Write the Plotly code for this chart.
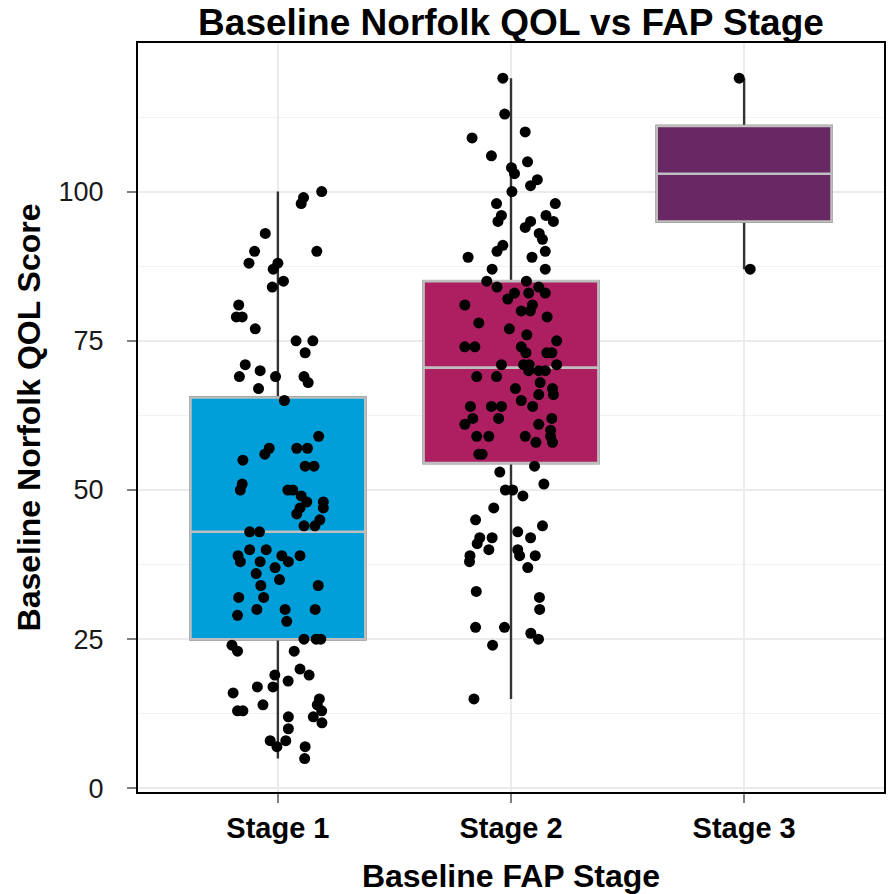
import plotly.graph_objects as go

# ---------------- data ----------------
stages = ["Stage 1", "Stage 2", "Stage 3"]
box_colors = ["#009FDA", "#AE1F62", "#682864"]

stage1_scores = [100, 99, 98, 93, 90, 90, 88, 88, 87, 85, 84, 81, 79, 79, 77, 75, 75, 73, 71, 69,
                 70, 69, 69, 68, 67, 65, 59, 57, 56, 57, 57, 55, 54, 54, 51, 50, 50, 50, 49, 48,
                 48, 47, 47, 46, 45, 44, 44, 43, 43, 40, 40, 39, 38, 39, 38, 39, 38, 37, 36, 35,
                 34, 34, 32, 32, 30, 30, 30, 29, 28, 25, 25, 25, 24, 23, 23, 20, 19, 19, 18, 17,
                 17, 16, 15, 14, 13, 14, 13, 13, 12, 12, 11, 10, 8, 8, 7, 7, 5]
stage1_jitter = [0.188, 0.11, 0.10, -0.054, -0.10, 0.167, -0.124, 0.0, -0.02, 0.024, -0.024, -0.168,
                 -0.178, -0.153, -0.097, 0.078, 0.15, 0.117, -0.14, -0.165, -0.076, -0.01, 0.112,
                 0.13, -0.083, 0.028, 0.175, -0.037, -0.056, 0.081, 0.127, -0.15, 0.117, 0.155,
                 -0.153, -0.161, 0.043, 0.064, 0.10, 0.124, 0.195, 0.195, 0.095, 0.081, 0.18,
                 0.112, 0.159, -0.121, -0.079, -0.121, -0.05, -0.171, -0.161, 0.017, 0.045, 0.095,
                 -0.076, -0.012, -0.093, 0.007, -0.073, 0.173, -0.168, -0.061, -0.09, 0.031, 0.16,
                 -0.173, 0.038, 0.112, 0.164, 0.184, -0.197, -0.173, 0.07, 0.095, 0.134, -0.013,
                 0.044, -0.088, -0.021, -0.192, 0.178, 0.169, 0.188, -0.064, -0.173, -0.15, 0.045,
                 0.152, 0.189, 0.045, -0.033, 0.034, -0.004, 0.117, 0.115]

stage2_scores = [119, 113, 109, 110, 106, 105, 104, 103, 102, 101, 100, 98, 98, 96, 95, 96, 95, 95,
                 94, 93, 92, 91, 90, 89, 90, 89, 87, 87, 85, 85, 84, 84, 83, 83, 82, 83, 81, 81,
                 80, 80, 78, 79, 77, 76, 75, 74, 74, 74, 73, 73, 73, 71, 71, 71, 71, 70, 70, 70,
                 69, 69, 68, 67, 67, 66, 66, 65, 64, 64, 64, 64, 62, 62, 62, 61, 61, 60, 59, 59,
                 59, 59, 58, 58, 56, 56, 54, 53, 51, 50, 50, 49, 47, 45, 44, 43, 42, 41, 42, 42,
                 40, 40, 39, 39, 38, 39, 37, 33, 32, 30, 27, 27, 26, 25, 24, 15]
stage2_jitter = [-0.035, -0.027, -0.167, 0.061, -0.084, 0.071, 0.002, 0.015, 0.113, 0.084, 0.004,
                 -0.062, 0.19, -0.041, -0.056, 0.15, 0.182, 0.084, 0.061, 0.121, 0.135, -0.035,
                 -0.06, -0.184, 0.147, 0.09, 0.147, -0.081, -0.104, 0.066, -0.06, 0.119, 0.147,
                 0.015, -0.014, 0.076, -0.198, 0.092, 0.083, 0.044, -0.138, 0.155, -0.007, 0.068,
                 0.196, -0.198, -0.155, 0.044, 0.064, 0.154, 0.175, -0.041, 0.054, 0.078, 0.196,
                 0.076, 0.119, 0.147, -0.147, -0.062, 0.125, 0.019, 0.178, 0.182, 0.119, 0.044,
                 0.093, -0.174, -0.084, -0.041, -0.164, -0.053, 0.175, -0.198, 0.119, 0.17,
                 -0.147, -0.095, 0.061, 0.17, 0.178, 0.107, -0.138, -0.124, 0.101, -0.048, 0.141,
                 -0.024, 0.007, 0.051, -0.074, -0.152, 0.135, 0.029, -0.134, -0.145, -0.081,
                 0.084, -0.095, 0.029, 0.037, -0.176, -0.178, 0.104, 0.072, -0.149, 0.122, 0.123,
                 -0.152, -0.028, 0.085, 0.118, -0.079, -0.159]

stage3_scores = [119, 87]
stage3_jitter = [-0.021, 0.026]

# box summaries
box_q1 = [25, 54.5, 95]
box_median = [43, 70.5, 103]
box_q3 = [65.5, 85, 111]
box_lower = [5, 15, 87]
box_upper = [100, 119, 119]

y_ticks = [0, 25, 50, 75, 100]

scores = [stage1_scores, stage2_scores, stage3_scores]
jitters = [stage1_jitter, stage2_jitter, stage3_jitter]
positions = list(range(len(stages)))

FONT = "Liberation Sans, Arial, sans-serif"

fig = go.Figure()

# whiskers (dark), drawn under the boxes
fig.add_trace(go.Box(
    x=positions, q1=box_q1, median=box_median, q3=box_q3,
    lowerfence=box_lower, upperfence=box_upper,
    width=0.75, whiskerwidth=0, fillcolor="rgba(0,0,0,0)",
    line=dict(color="#333333", width=2.4), boxpoints=False, showlegend=False,
    hoverinfo="skip"))

# coloured boxes
for i in positions:
    fig.add_trace(go.Box(
        x=[i], q1=[box_q1[i]], median=[box_median[i]], q3=[box_q3[i]],
        lowerfence=[box_q1[i]], upperfence=[box_q3[i]],
        width=0.75, whiskerwidth=0, fillcolor=box_colors[i],
        line=dict(color="#BEBEBE", width=2.6), boxpoints=False, showlegend=False,
        hoverinfo="skip"))

# jittered points
for i in positions:
    fig.add_trace(go.Scatter(
        x=[i + d for d in jitters[i]], y=scores[i], mode="markers",
        marker=dict(color="black", size=11, line=dict(width=0)),
        showlegend=False, hoverinfo="skip"))

fig.update_layout(
    width=889, height=894,
    margin=dict(l=138, r=3, t=43, b=102),
    paper_bgcolor="white", plot_bgcolor="white",
    boxmode="overlay",
    title=dict(text="<b>Baseline Norfolk QOL vs FAP Stage</b>",
               font=dict(family=FONT, size=37, color="black"),
               x=0.5, xanchor="center", y=0.975, yanchor="middle",
               xref="paper"),
    font=dict(family=FONT),
)

fig.update_xaxes(
    range=[-0.6, 2.6], tickmode="array", tickvals=positions,
    ticktext=["<b>%s</b>" % s for s in stages],
    tickfont=dict(family=FONT, size=29, color="black"),
    ticks="outside", ticklen=9, tickwidth=2, tickcolor="#7F7F7F",
    showgrid=True, gridcolor="#EBEBEB", gridwidth=1.5,
    showline=True, linecolor="black", linewidth=2, mirror=True,
    zeroline=False,
    title=dict(text="<b>Baseline FAP Stage</b>",
               font=dict(family=FONT, size=32, color="black"), standoff=22),
)
fig.update_yaxes(
    range=[-0.6, 124.9], tickmode="array", tickvals=y_ticks,
    tickfont=dict(family=FONT, size=27, color="#1a1a1a"),
    ticks="outside", ticklen=9, tickwidth=2, tickcolor="#7F7F7F",
    ticklabelstandoff=18,
    showgrid=True, gridcolor="#EBEBEB", gridwidth=1.5,
    minor=dict(dtick=12.5, tick0=0, showgrid=True, gridcolor="#F2F2F2", gridwidth=1, ticks=""),
    showline=True, linecolor="black", linewidth=2, mirror=True,
    zeroline=False,
    title=dict(text="<b>Baseline Norfolk QOL Score</b>",
               font=dict(family=FONT, size=32, color="black"), standoff=8),
)

fig.write_html("out.html")
